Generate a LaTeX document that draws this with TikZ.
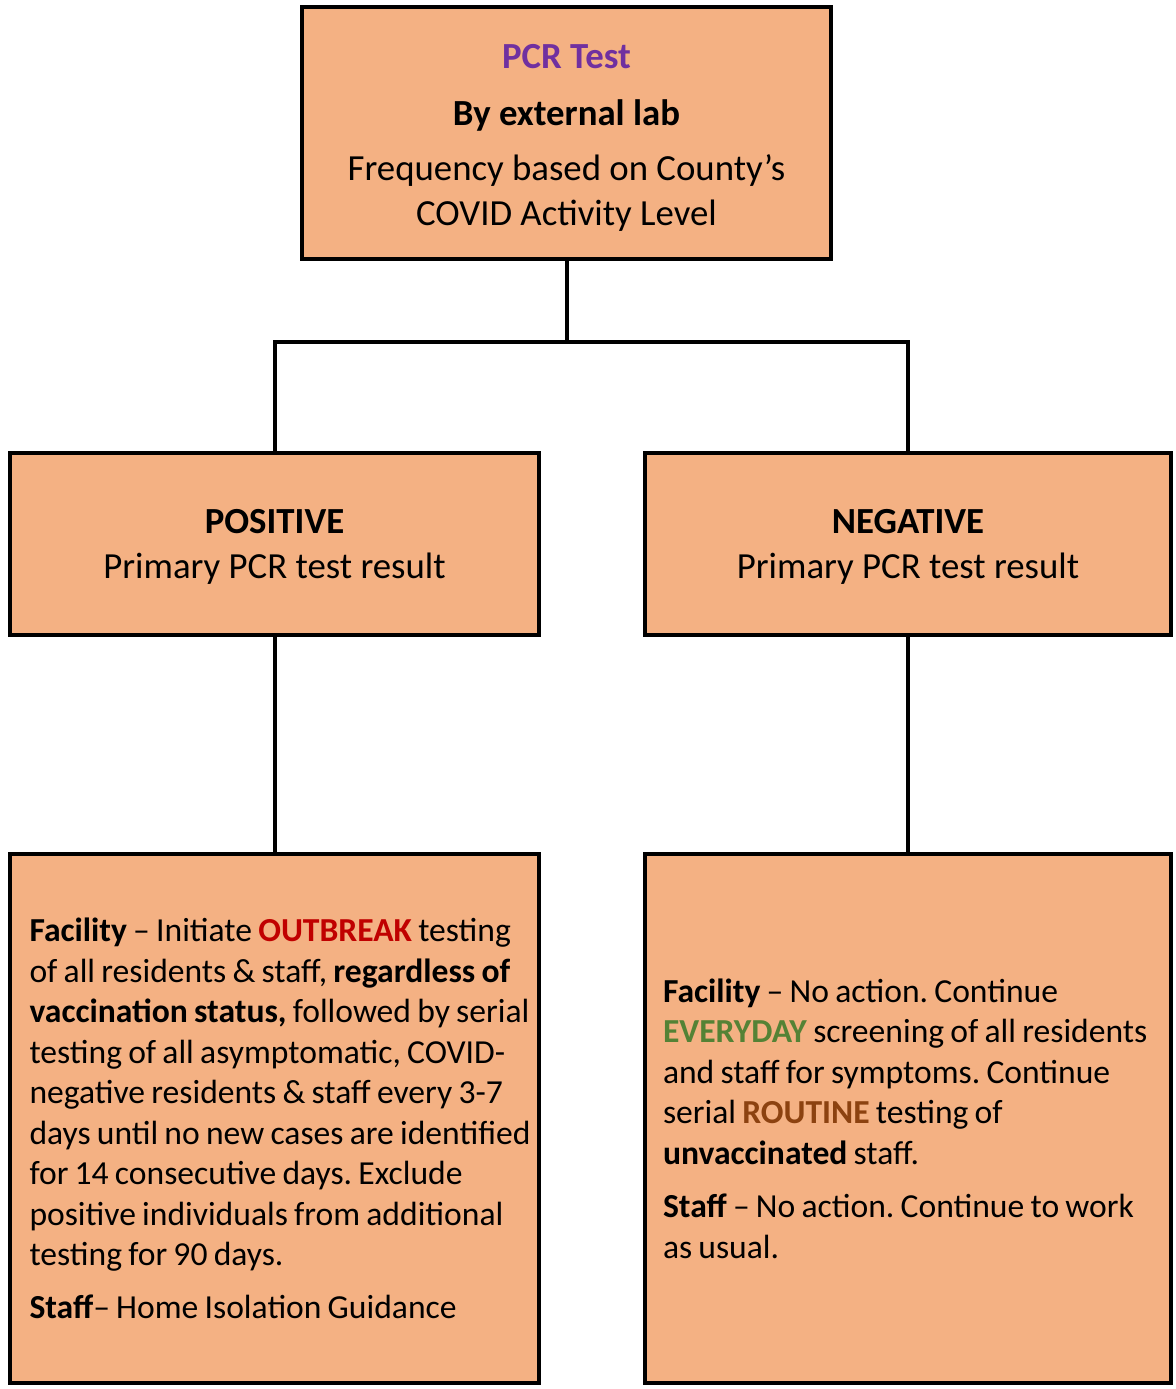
\documentclass[tikz,border=0pt]{standalone}
\usepackage{fontspec}
\setmainfont{Carlito}
\usetikzlibrary{positioning}
\frenchspacing
\definecolor{boxfill}{RGB}{244,177,131}
\definecolor{pcrpurple}{RGB}{112,48,160}
\definecolor{outbreakred}{RGB}{192,0,0}
\definecolor{everydaygreen}{RGB}{84,130,53}
\definecolor{routinebrown}{RGB}{140,66,16}
\tikzset{
  stepbox/.style={draw=black, line width=2pt, fill=boxfill, rectangle,
    inner sep=0pt, minimum width=529*0.5pt},
  topfont/.style={font=\fontsize{18.4}{22.5}\selectfont},
  bodyfont/.style={font=\fontsize{16.8}{20.25}\selectfont},
  actbox/.style={stepbox, bodyfont, minimum height=529*0.5pt, text width=263pt,
    align=left, execute at begin node={\leftskip=9pt\hyphenpenalty=10000
      \spaceskip=0.82\fontdimen2\font}},
  link/.style={line width=2pt}
}
\begin{document}
\begin{tikzpicture}[x=0.5pt,y=-0.5pt]
\useasboundingbox (0,0) rectangle (1176,1389);
%PCR test
\node[stepbox, minimum height=252*0.5pt, topfont, align=center] (pcr) at (566.5,133)
  {\rule{0pt}{16.8pt}\textcolor{pcrpurple}{\textbf{PCR Test}}\\[6pt]
   \textbf{By external lab}\\[5pt]
   Frequency based on County’s\\
   COVID Activity Level};
%results
\node[stepbox, minimum height=182*0.5pt, topfont, align=center] (pos) at (274.5,544)
  {\rule{0pt}{14.8pt}\textbf{POSITIVE}\\Primary PCR test result};
\node[stepbox, minimum width=526*0.5pt, minimum height=182*0.5pt, topfont, align=center] (neg) at (908,544)
  {\rule{0pt}{14.8pt}\textbf{NEGATIVE}\\Primary PCR test result};
%actions
\node[actbox] (posact) at (274.5,1118.5)
  {\textbf{Facility} – Initiate \textcolor{outbreakred}{\textbf{OUTBREAK}} testing\\
   of all residents \& staff, \textbf{regardless of}\\
   \textbf{vaccination status,} followed by serial\\
   testing of all asymptomatic, COVID-\\
   negative residents \& staff every 3-7\\
   days until no new cases are identified\\
   for 14 consecutive days. Exclude\\
   positive individuals from additional\\
   testing for 90 days.\\[6pt]
   \textbf{Staff}– Home Isolation Guidance};
\node[actbox, minimum width=526*0.5pt] (negact) at (908,1118.5)
  {\textbf{Facility} – No action. Continue\\
   \textcolor{everydaygreen}{\textbf{EVERYDAY}} screening of all residents\\
   and staff for symptoms. Continue\\
   serial \textcolor{routinebrown}{\textbf{ROUTINE}} testing of\\
   \textbf{unvaccinated} staff.\\[6.5pt]
   \textbf{Staff} – No action. Continue to work\\
   as usual.};
%connectors
\coordinate (split) at (566.5,342);
\draw[link] (pcr.south) -- (split);
\draw[link] (pos.north) |- (split) -| (neg.north);
\draw[link] (pos.south) -- (posact.north);
\draw[link] (neg.south) -- (negact.north);
\end{tikzpicture}
\end{document}
